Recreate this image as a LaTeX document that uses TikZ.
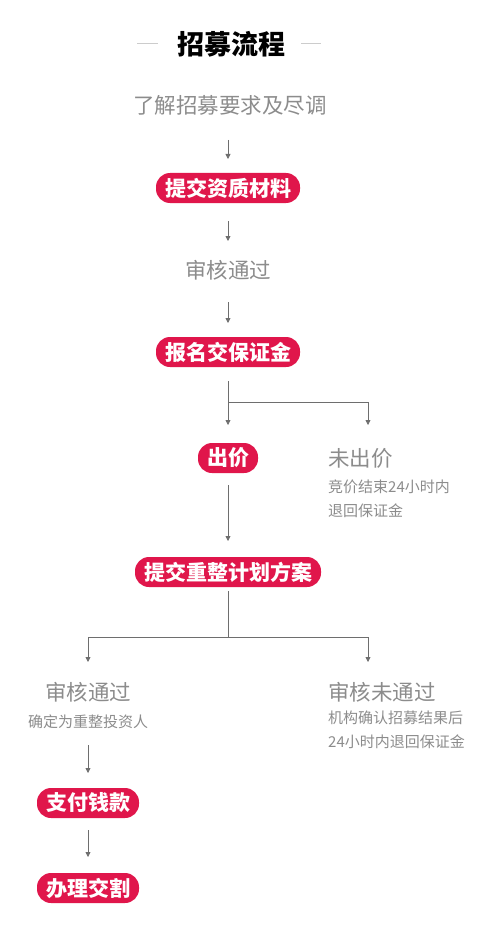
\documentclass[tikz,border=0pt]{standalone}
\usepackage{fontspec}
\setmainfont{Noto Sans CJK SC}
\usetikzlibrary{arrows.meta,positioning}
\definecolor{pillred}{HTML}{E0164B}
\definecolor{txtgray}{HTML}{8C8C8C}
\definecolor{lngray}{HTML}{6E6E6E}

\begin{document}
\begin{tikzpicture}[
  x=1pt, y=-1pt,
  pill/.style={fill=pillred, text=white, rounded corners=14pt, minimum height=30pt, inner xsep=9pt, font=\fontsize{21}{23}\selectfont\bfseries},
  stepnote/.style={text=txtgray, inner sep=0pt, font=\fontsize{21.5}{24}\selectfont},
  subnote/.style={text=txtgray, inner sep=0pt, align=left, font=\fontsize{15}{24}\selectfont},
  arr/.style={-{Triangle[length=5pt, width=5pt]}, lngray, line width=0.8pt},
  ln/.style={lngray, line width=0.8pt}
]
\useasboundingbox (0,0) rectangle (500,936);

% title
\node[font=\fontsize{27}{30}\selectfont\bfseries] (title) at (231,44) {招募流程};
\draw[gray!40, line width=0.8pt] (137,43) -- (158,43);
\draw[gray!40, line width=0.8pt] (301,43) -- (321,43);

% main column
\node[stepnote] (learn) at (230,105) {了解招募要求及尽调};
\node[pill] (submit) at (228,188) {提交资质材料};
\node[stepnote] (pass1) at (228,270) {审核通过};
\node[pill] (deposit) at (228,352) {报名交保证金};
\node[pill] (bid) at (228,458) {出价};
\node[stepnote, anchor=west] (nobid) at (328,458) {未出价};
\node[subnote, anchor=north west] (nobidnote) at (328,480) {竞价结束24小时内\\退回保证金};
\node[pill] (plan) at (228,572) {提交重整计划方案};

\node[stepnote] (pass2) at (88,692) {审核通过};
\node[subnote] (pass2note) at (88,722) {确定为重整投资人};
\node[stepnote, anchor=west] (fail) at (328,692) {审核未通过};
\node[subnote, anchor=north west] (failnote) at (328,711) {机构确认招募结果后\\24小时内退回保证金};
\node[pill] (pay) at (88,803) {支付钱款};
\node[pill] (deliver) at (88,888) {办理交割};

\coordinate (split1) at (228,402);
\coordinate (split2) at (228,637);

\draw[arr] (228,140) -- (228,159);
\draw[arr] (228,221) -- (228,241);
\draw[arr] (228,302) -- (228,323);
\draw[ln] (deposit.south) ++(0,14) -- (split1);
\draw[arr] (split1) -- (228,425);
\draw[arr] (split1) -| (368,425);
\draw[arr] (228,485) -- (228,541);
\draw[ln] (plan.south) ++(0,4) -- (split2);
\draw[arr] (split2) -| (88,662);
\draw[arr] (split2) -| (368,662);
\draw[arr] (88,745) -- (88,773);
\draw[arr] (88,830) -- (88,857);
\end{tikzpicture}
\end{document}
